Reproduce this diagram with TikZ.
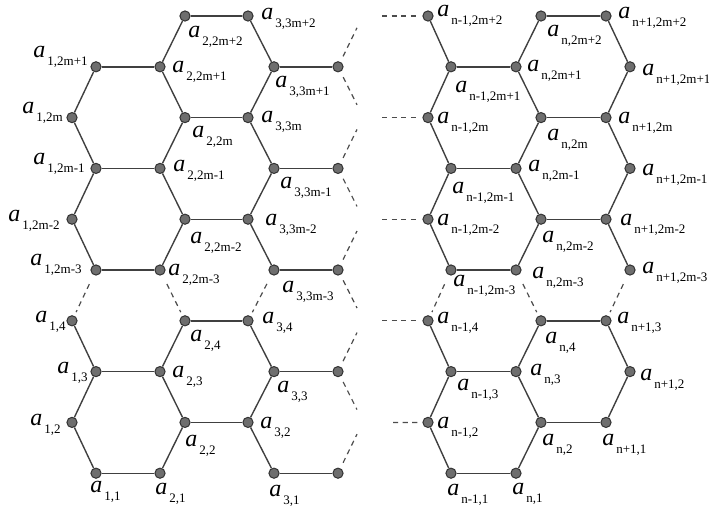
\documentclass[tikz,border=0pt]{standalone}
\usepackage{fontspec}
\setmainfont{Liberation Serif}
\usepackage{tikz}
\usetikzlibrary{positioning}

\newcommand{\alab}[1]{{\fontsize{12}{12}\selectfont\itshape a}\kern1pt\raisebox{-4.3pt}{\fontsize{6.5}{7}\selectfont #1}}

\begin{document}
\begin{tikzpicture}[x=0.5pt,y=-0.5pt,
  vtx/.style={circle,draw=black!80,fill=black!57,line width=0.5pt,minimum size=5.1pt,inner sep=0pt},
  edge/.style={draw=black!75,line width=0.7pt},
  gap/.style={draw=black!70,line width=0.6pt,dash pattern=on 2.6pt off 2.2pt,shorten <=5pt,shorten >=2pt},
  stub/.style={draw=black!70,line width=0.6pt,dash pattern=on 2.6pt off 2.2pt},
  lab/.style={anchor=base west,inner sep=0pt}]
  \useasboundingbox (0,0) rectangle (709,509);

  % vertices
  \foreach \c/\x in {4/185,5/248,8/428,11/541,12/606}
    \node[vtx] (v\c-0) at (\x,16) {};
  \foreach \r in {2,4,6,8}
    \foreach \c/\x in {1/72,4/185,5/248,8/428,11/541,12/606}
      \node[vtx] (v\c-\r) at (\x,{16+50.8*\r}) {};
  \foreach \r in {1,3,5,7}
    \foreach \c/\x in {2/96,3/160,6/274,7/338,9/451,10/516,13/630}
      \node[vtx] (v\c-\r) at (\x,{16+50.8*\r}) {};
  \foreach \c/\x in {2/96,3/160,6/274,7/338,9/451,10/516}
    \node[vtx] (v\c-9) at (\x,473.2) {};

  % horizontal edges
  \foreach \r in {0,2,...,8} {
    \draw[edge] (v4-\r) -- (v5-\r);
    \draw[edge] (v11-\r) -- (v12-\r);
  }
  \foreach \r in {1,3,...,9} {
    \draw[edge] (v2-\r) -- (v3-\r);
    \draw[edge] (v6-\r) -- (v7-\r);
    \draw[edge] (v9-\r) -- (v10-\r);
  }
  % slanted edges
  \foreach \e/\o in {1/2,4/3,5/6,8/9,11/10,12/13}
    \foreach \r/\s in {2/1,2/3,4/3,4/5,6/7,8/7}
      \draw[edge] (v\e-\r) -- (v\o-\s);
  \foreach \e/\o in {4/3,5/6,8/9,11/10,12/13}
    \draw[edge] (v\e-0) -- (v\o-1);
  \foreach \e/\o in {1/2,4/3,5/6,8/9,11/10}
    \draw[edge] (v\e-8) -- (v\o-9);
  % omitted rows
  \foreach \e/\o in {1/2,4/3,5/6,8/9,11/10,12/13}
    \draw[gap] (v\o-5) -- (v\e-6);

  % dashed stubs
  \foreach \r in {1,3,5,7,9} {
    \coordinate (up\r) at (357,{16+50.8*\r-39});
    \draw[stub,shorten <=3pt] (v7-\r) -- (up\r);
  }
  \foreach \r in {1,3,5,7} {
    \coordinate (dn\r) at (357,{16+50.8*\r+38});
    \draw[stub,shorten <=3pt] (v7-\r) -- (dn\r);
  }
  \foreach \r in {0,2,4,6} {
    \coordinate (w\r) at (382,{16+50.8*\r});
    \draw[stub,shorten >=1.5pt] (w\r) -- (v8-\r);
  }
  \coordinate (w8) at (393,422.4);
  \draw[stub,shorten >=1.5pt] (w8) -- (v8-8);

  % labels
  \foreach \n/\x/\y/\t in {
    4-0/188/37/{2,2m+2}, 5-0/261/19/{3,3m+2},
    2-1/33/57/{1,2m+1}, 3-1/172/72/{2,2m+1}, 6-1/275/87/{3,3m+1},
    1-2/22/113/{1,2m}, 4-2/192/137/{2,2m}, 5-2/261/122/{3,3m},
    2-3/33/164/{1,2m-1}, 3-3/173/171/{2,2m-1}, 6-3/280/188/{3,3m-1},
    1-4/8/221/{1,2m-2}, 4-4/190/243/{2,2m-2}, 5-4/265/225/{3,3m-2},
    2-5/30/265/{1,2m-3}, 3-5/168/275/{2,2m-3}, 6-5/282/292/{3,3m-3},
    1-6/35/322/{1,4}, 4-6/190/341/{2,4}, 5-6/262/323/{3,4},
    2-7/57/373/{1,3}, 3-7/172/377/{2,3}, 6-7/277/392/{3,3},
    1-8/30/425/{1,2}, 4-8/185/446/{2,2}, 5-8/260/428/{3,2},
    2-9/90/492/{1,1}, 3-9/155/494/{2,1}, 6-9/269/496/{3,1}}
    \node[lab] (a\n) at (\x,\y) {\alab{\t}};
  \foreach \n/\x/\y/\t in {
    8-0/437/16/{n-1,2m+2}, 11-0/547/36/{n,2m+2}, 12-0/618/18/{n+1,2m+2},
    9-1/455/92/{n-1,2m+1}, 10-1/527/71/{n,2m+1}, 13-1/642/75/{n+1,2m+1},
    8-2/437/123/{n-1,2m}, 11-2/547/140/{n,2m}, 12-2/618/123/{n+1,2m},
    9-3/452/193/{n-1,2m-1}, 10-3/528/171/{n,2m-1}, 13-3/642/175/{n+1,2m-1},
    8-4/437/225/{n-1,2m-2}, 11-4/542/242/{n,2m-2}, 12-4/620/225/{n+1,2m-2},
    9-5/453/286/{n-1,2m-3}, 10-5/532/278/{n,2m-3}, 13-5/642/273/{n+1,2m-3},
    8-6/437/323/{n-1,4}, 11-6/545/343/{n,4}, 12-6/617/323/{n+1,3},
    9-7/457/390/{n-1,3}, 10-7/530/375/{n,3}, 13-7/640/380/{n+1,2},
    8-8/437/428/{n-1,2}, 11-8/542/445/{n,2}, 12-8/602/445/{n+1,1},
    9-9/447/495/{n-1,1}, 10-9/512/494/{n,1}}
    \node[lab] (a\n) at (\x,\y) {\alab{\t}};
\end{tikzpicture}
\end{document}
